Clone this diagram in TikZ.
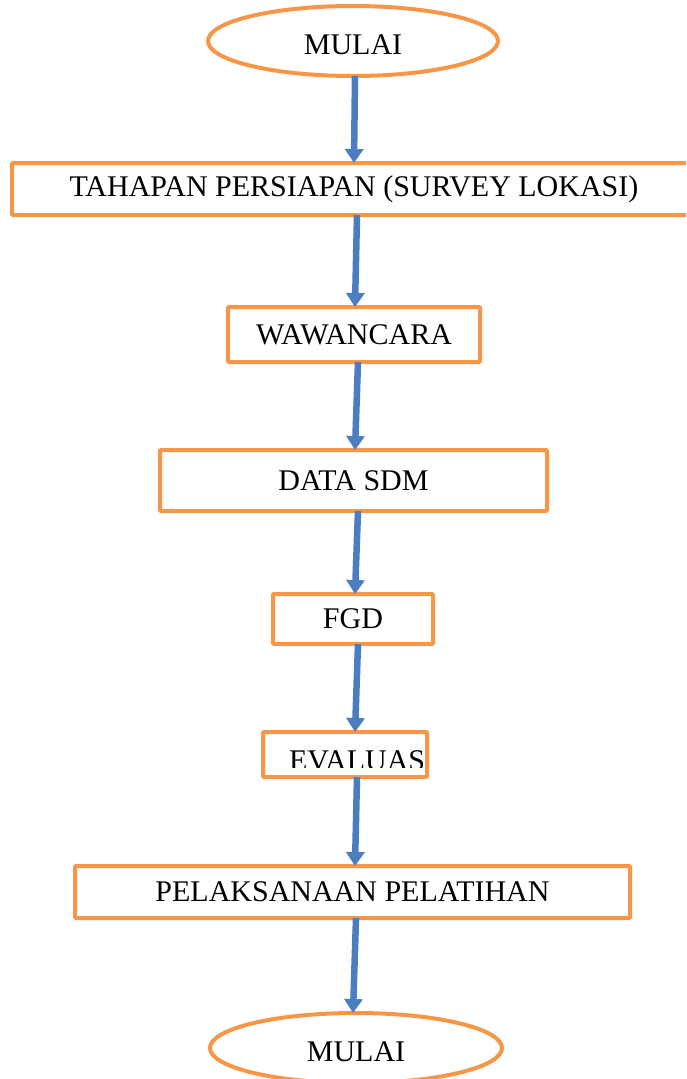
\documentclass[tikz,border=0pt]{standalone}
\usepackage{fontspec}
\setmainfont{Liberation Serif}
\usetikzlibrary{arrows.meta,shapes.geometric}
\definecolor{boxorange}{RGB}{247,150,70}
\definecolor{arrowblue}{RGB}{74,126,193}
\begin{document}
\begin{tikzpicture}[x=1pt,y=-1pt,
  every node/.style={font=\fontsize{30}{35}\selectfont, inner sep=0pt, outer sep=0pt},
  procbox/.style={draw=boxorange, line width=4pt, rectangle, rounded corners=1pt, fill=white},
  termellipse/.style={draw=boxorange, line width=4pt, ellipse, fill=white, text height=26pt, text depth=0pt},
  arr/.style={draw=arrowblue, line width=6.5pt, -{Triangle[length=14pt,width=18pt]}}]
\useasboundingbox (0,0) rectangle (686,1079);
\clip (0,0) rectangle (686,1079);
\node[termellipse, minimum width=290pt, minimum height=70pt] (e1) at (353,41) {MULAI};
\node[procbox, minimum width=684pt, minimum height=52pt] (b1) at (354,189) {TAHAPAN PERSIAPAN (SURVEY LOKASI)};
\node[procbox, minimum width=252pt, minimum height=55pt] (b2) at (354,334.5) {WAWANCARA};
\node[procbox, minimum width=387pt, minimum height=61pt] (b3) at (353.5,480.5) {DATA SDM};
\node[procbox, minimum width=160pt, minimum height=50pt] (b4) at (353,619) {FGD};
\node[procbox, minimum width=164pt, minimum height=45pt] (b5) at (345,754.5) {};
\begin{scope}
  \clip (265,734) rectangle (425,767);
  \node[anchor=base west] (t5) at (289,770) {EVALUAS};
\end{scope}
\node[procbox, minimum width=555pt, minimum height=52pt] (b6) at (352.5,892) {PELAKSANAAN PELATIHAN};
\node[termellipse, minimum width=292pt, minimum height=70pt] (e2) at (356,1048) {MULAI};
\draw[arr] ([xshift=2pt]e1.south) -- ([xshift=0pt]b1.north);
\draw[arr] ([xshift=3pt]b1.south) -- ([xshift=1pt]b2.north);
\draw[arr] ([xshift=4pt]b2.south) -- ([xshift=1.5pt]b3.north);
\draw[arr] ([xshift=4.5pt]b3.south) -- ([xshift=2pt]b4.north);
\draw[arr] ([xshift=5pt]b4.south) -- ([xshift=10pt]b5.north);
\draw[arr] ([xshift=12pt]b5.south) -- ([xshift=2.5pt]b6.north);
\draw[arr] ([xshift=3.5pt]b6.south) -- ([xshift=-3pt]e2.north);
\end{tikzpicture}
\end{document}
